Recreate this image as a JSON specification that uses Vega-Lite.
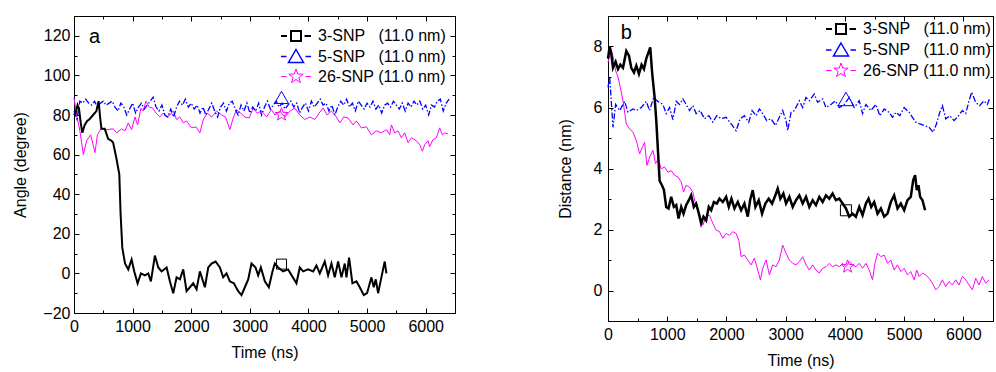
{
"$schema": "https://vega.github.io/schema/vega-lite/v6.json",
"padding": {"left": 12, "top": 7, "right": 1, "bottom": 0},
"spacing": 100,
"config": {
  "font": "Liberation Sans",
  "view": {"stroke": "black", "strokeWidth": 1},
  "axis": {"labelFont": "Liberation Sans", "titleFont": "Liberation Sans", "labelFontSize": 16, "titleFontSize": 16, "titleFontWeight": "normal", "labelColor": "black", "titleColor": "black", "tickColor": "black", "domainColor": "black", "grid": false, "labelFlush": false, "labelOverlap": false, "format": "d"},
  "legend": {"labelFont": "Liberation Sans", "labelFontSize": 16, "labelColor": "black", "labelLimit": 0}
},
"resolve": {"scale": {"color": "independent", "shape": "independent", "strokeWidth": "independent"}},
"hconcat": [
{
  "width": 381, "height": 297,
  "resolve": {"axis": {"x": "independent", "y": "independent"}},
  "layer": [
    {"data": {"name": "a26"}, "mark": {"type": "line", "color": "#FF00FF", "strokeWidth": 1},
     "encoding": {
       "x": {"field": "t", "type": "quantitative", "scale": {"domain": [0, 6500], "nice": false},
             "axis": {"orient": "bottom", "values": [0,500,1000,1500,2000,2500,3000,3500,4000,4500,5000,5500,6000,6500], "labelExpr": "datum.value % 1000 === 0 ? datum.label : ''", "tickSize": {"condition": {"test": "datum.value % 1000 === 0", "value": -5}, "value": -3}, "labelPadding": 10, "title": "Time (ns)", "titlePadding": 8}},
       "y": {"field": "v", "type": "quantitative", "scale": {"domain": [-20, 130], "nice": false},
             "axis": {"orient": "left", "values": [-20,-10,0,10,20,30,40,50,60,70,80,90,100,110,120,130], "labelExpr": "datum.value % 20 === 0 ? datum.label : ''", "tickSize": {"condition": {"test": "datum.value % 20 === 0", "value": -5}, "value": -3}, "labelPadding": 9, "title": "Angle (degree)", "titlePadding": 14}}
     }},
    {"data": {"name": "a5"}, "mark": {"type": "line", "color": "#0000FF", "strokeWidth": 1.3, "strokeDash": [6, 2, 1.5, 2]},
     "encoding": {
       "x": {"field": "t", "type": "quantitative", "scale": {"domain": [0, 6500], "nice": false}, "axis": null},
       "y": {"field": "v", "type": "quantitative", "scale": {"domain": [-20, 130], "nice": false}, "axis": null}
     }},
    {"data": {"name": "a3"}, "mark": {"type": "line", "color": "black", "strokeWidth": 2},
     "encoding": {
       "x": {"field": "t", "type": "quantitative", "scale": {"domain": [0, 6500], "nice": false}, "axis": null},
       "y": {"field": "v", "type": "quantitative", "scale": {"domain": [-20, 130], "nice": false}, "axis": null}
     }},
    {"data": {"values": [{"t": 3540, "v": 4.7}]}, "mark": {"type": "point", "shape": "square", "size": 100, "color": "black", "strokeWidth": 1, "filled": false, "opacity": 1},
     "encoding": {
       "x": {"field": "t", "type": "quantitative", "scale": {"domain": [0, 6500], "nice": false},
             "axis": {"orient": "top", "values": [0,500,1000,1500,2000,2500,3000,3500,4000,4500,5000,5500,6000,6500], "labels": false, "title": null, "domain": false, "tickSize": {"condition": {"test": "datum.value % 1000 === 0", "value": -5}, "value": -3}}},
       "y": {"field": "v", "type": "quantitative", "scale": {"domain": [-20, 130], "nice": false},
             "axis": {"orient": "right", "values": [-20,-10,0,10,20,30,40,50,60,70,80,90,100,110,120,130], "labels": false, "title": null, "domain": false, "tickSize": {"condition": {"test": "datum.value % 20 === 0", "value": -5}, "value": -3}}}
     }},
    {"data": {"values": [{"t": 3540, "v": 88.9}]}, "mark": {"type": "point", "shape": "triangle-up", "size": 196, "color": "#0000FF", "strokeWidth": 1, "filled": false, "opacity": 1},
     "encoding": {
       "x": {"field": "t", "type": "quantitative", "scale": {"domain": [0, 6500], "nice": false}, "axis": null},
       "y": {"field": "v", "type": "quantitative", "scale": {"domain": [-20, 130], "nice": false}, "axis": null}
     }},
    {"data": {"values": [{"t": 3540, "v": 80.2}]}, "mark": {"type": "point", "shape": "M0,-0.75L0.176,-0.243L0.713,-0.232L0.285,0.093L0.441,0.607L0,0.3L-0.441,0.607L-0.285,0.093L-0.713,-0.232L-0.176,-0.243Z", "size": 330, "color": "#FF00FF", "strokeWidth": 1, "filled": false, "opacity": 1},
     "encoding": {
       "x": {"field": "t", "type": "quantitative", "scale": {"domain": [0, 6500], "nice": false}, "axis": null},
       "y": {"field": "v", "type": "quantitative", "scale": {"domain": [-20, 130], "nice": false}, "axis": null}
     }},
    {"data": {"values": [{"s": "3-SNP\u00a0\u00a0\u00a0(11.0 nm)"}, {"s": "5-SNP\u00a0\u00a0\u00a0(11.0 nm)"}, {"s": "26-SNP (11.0 nm)"}]},
     "transform": [{"filter": "false"}],
     "mark": {"type": "point", "filled": false, "opacity": 1},
     "encoding": {
       "color": {"field": "s", "type": "nominal", "scale": {"domain": ["3-SNP\u00a0\u00a0\u00a0(11.0 nm)", "5-SNP\u00a0\u00a0\u00a0(11.0 nm)", "26-SNP (11.0 nm)"], "range": ["black", "#0000FF", "#FF00FF"]},
                 "legend": {"orient": "top-right", "offset": 9, "title": null, "symbolSize": 400, "labelOffset": 11, "rowPadding": 0.5, "padding": 0, "symbolFillColor": "transparent"}},
       "shape": {"field": "s", "type": "nominal", "scale": {"domain": ["3-SNP\u00a0\u00a0\u00a0(11.0 nm)", "5-SNP\u00a0\u00a0\u00a0(11.0 nm)", "26-SNP (11.0 nm)"], "range": ["M-1.5,0H-0.9M-0.5,-0.5H0.5V0.5H-0.5ZM0.85,0H1.5", "M-1.5,0H-0.95M0,-0.7L0.75,0.6H-0.75ZM0.95,0H1.5", "M-1.5,0H-0.95M0,-0.75L0.176,-0.243L0.713,-0.232L0.285,0.093L0.441,0.607L0,0.3L-0.441,0.607L-0.285,0.093L-0.713,-0.232L-0.176,-0.243ZM0.95,0H1.5"]}},
       "strokeWidth": {"field": "s", "type": "nominal", "scale": {"domain": ["3-SNP\u00a0\u00a0\u00a0(11.0 nm)", "5-SNP\u00a0\u00a0\u00a0(11.0 nm)", "26-SNP (11.0 nm)"], "range": [2, 1, 1]}}
     }},
    {"data": {"values": [{}]}, "mark": {"type": "text", "text": "a", "fontSize": 20, "font": "Liberation Sans", "baseline": "middle", "align": "center", "color": "black"},
     "encoding": {
       "x": {"datum": 350, "type": "quantitative", "scale": {"domain": [0, 6500], "nice": false}, "axis": null},
       "y": {"datum": 119.6, "type": "quantitative", "scale": {"domain": [-20, 130], "nice": false}, "axis": null}
     }}
  ]
},
{
  "width": 385, "height": 305,
  "resolve": {"axis": {"x": "independent", "y": "independent"}},
  "layer": [
    {"data": {"name": "b26"}, "mark": {"type": "line", "color": "#FF00FF", "strokeWidth": 1},
     "encoding": {
       "x": {"field": "t", "type": "quantitative", "scale": {"domain": [0, 6500], "nice": false},
             "axis": {"orient": "bottom", "values": [0,500,1000,1500,2000,2500,3000,3500,4000,4500,5000,5500,6000,6500], "labelExpr": "datum.value % 1000 === 0 ? datum.label : ''", "tickSize": {"condition": {"test": "datum.value % 1000 === 0", "value": -5}, "value": -3}, "labelPadding": 10, "title": "Time (ns)", "titlePadding": 8}},
       "y": {"field": "v", "type": "quantitative", "scale": {"domain": [-1, 9], "nice": false},
             "axis": {"orient": "left", "values": [-1,0,1,2,3,4,5,6,7,8,9], "labelExpr": "datum.value % 2 === 0 ? datum.label : ''", "tickSize": {"condition": {"test": "datum.value % 2 === 0", "value": -5}, "value": -3}, "labelPadding": 11, "title": "Distance (nm)", "titlePadding": 20}}
     }},
    {"data": {"name": "b5"}, "mark": {"type": "line", "color": "#0000FF", "strokeWidth": 1.3, "strokeDash": [6, 2, 1.5, 2]},
     "encoding": {
       "x": {"field": "t", "type": "quantitative", "scale": {"domain": [0, 6500], "nice": false}, "axis": null},
       "y": {"field": "v", "type": "quantitative", "scale": {"domain": [-1, 9], "nice": false}, "axis": null}
     }},
    {"data": {"name": "b3"}, "mark": {"type": "line", "color": "black", "strokeWidth": 2.5},
     "encoding": {
       "x": {"field": "t", "type": "quantitative", "scale": {"domain": [0, 6500], "nice": false}, "axis": null},
       "y": {"field": "v", "type": "quantitative", "scale": {"domain": [-1, 9], "nice": false}, "axis": null}
     }},
    {"data": {"values": [{"t": 4017, "v": 2.63}]}, "mark": {"type": "point", "shape": "square", "size": 121, "color": "black", "strokeWidth": 1, "filled": false, "opacity": 1},
     "encoding": {
       "x": {"field": "t", "type": "quantitative", "scale": {"domain": [0, 6500], "nice": false},
             "axis": {"orient": "top", "values": [0,500,1000,1500,2000,2500,3000,3500,4000,4500,5000,5500,6000,6500], "labels": false, "title": null, "domain": false, "tickSize": {"condition": {"test": "datum.value % 1000 === 0", "value": -5}, "value": -3}}},
       "y": {"field": "v", "type": "quantitative", "scale": {"domain": [-1, 9], "nice": false},
             "axis": {"orient": "right", "values": [-1,0,1,2,3,4,5,6,7,8,9], "labels": false, "title": null, "domain": false, "tickSize": {"condition": {"test": "datum.value % 2 === 0", "value": -5}, "value": -3}}}
     }},
    {"data": {"values": [{"t": 4017, "v": 6.28}]}, "mark": {"type": "point", "shape": "triangle-up", "size": 240, "color": "#0000FF", "strokeWidth": 1, "filled": false, "opacity": 1},
     "encoding": {
       "x": {"field": "t", "type": "quantitative", "scale": {"domain": [0, 6500], "nice": false}, "axis": null},
       "y": {"field": "v", "type": "quantitative", "scale": {"domain": [-1, 9], "nice": false}, "axis": null}
     }},
    {"data": {"values": [{"t": 4045, "v": 0.78}]}, "mark": {"type": "point", "shape": "M0,-0.75L0.176,-0.243L0.713,-0.232L0.285,0.093L0.441,0.607L0,0.3L-0.441,0.607L-0.285,0.093L-0.713,-0.232L-0.176,-0.243Z", "size": 330, "color": "#FF00FF", "strokeWidth": 1, "filled": false, "opacity": 1},
     "encoding": {
       "x": {"field": "t", "type": "quantitative", "scale": {"domain": [0, 6500], "nice": false}, "axis": null},
       "y": {"field": "v", "type": "quantitative", "scale": {"domain": [-1, 9], "nice": false}, "axis": null}
     }},
    {"data": {"values": [{"s": "3-SNP\u00a0\u00a0\u00a0(11.0 nm)"}, {"s": "5-SNP\u00a0\u00a0\u00a0(11.0 nm)"}, {"s": "26-SNP (11.0 nm)"}]},
     "transform": [{"filter": "false"}],
     "mark": {"type": "point", "filled": false, "opacity": 1},
     "encoding": {
       "color": {"field": "s", "type": "nominal", "scale": {"domain": ["3-SNP\u00a0\u00a0\u00a0(11.0 nm)", "5-SNP\u00a0\u00a0\u00a0(11.0 nm)", "26-SNP (11.0 nm)"], "range": ["black", "#0000FF", "#FF00FF"]},
                 "legend": {"orient": "top-right", "offset": 2, "title": null, "symbolSize": 400, "labelOffset": 11, "rowPadding": 1, "padding": 0, "symbolFillColor": "transparent"}},
       "shape": {"field": "s", "type": "nominal", "scale": {"domain": ["3-SNP\u00a0\u00a0\u00a0(11.0 nm)", "5-SNP\u00a0\u00a0\u00a0(11.0 nm)", "26-SNP (11.0 nm)"], "range": ["M-1.5,0H-0.9M-0.5,-0.5H0.5V0.5H-0.5ZM0.85,0H1.5", "M-1.5,0H-0.95M0,-0.7L0.75,0.6H-0.75ZM0.95,0H1.5", "M-1.5,0H-0.95M0,-0.75L0.176,-0.243L0.713,-0.232L0.285,0.093L0.441,0.607L0,0.3L-0.441,0.607L-0.285,0.093L-0.713,-0.232L-0.176,-0.243ZM0.95,0H1.5"]}},
       "strokeWidth": {"field": "s", "type": "nominal", "scale": {"domain": ["3-SNP\u00a0\u00a0\u00a0(11.0 nm)", "5-SNP\u00a0\u00a0\u00a0(11.0 nm)", "26-SNP (11.0 nm)"], "range": [2, 1, 1]}}
     }},
    {"data": {"values": [{}]}, "mark": {"type": "text", "text": "b", "fontSize": 20, "font": "Liberation Sans", "baseline": "middle", "align": "center", "color": "black"},
     "encoding": {
       "x": {"datum": 310, "type": "quantitative", "scale": {"domain": [0, 6500], "nice": false}, "axis": null},
       "y": {"datum": 8.45, "type": "quantitative", "scale": {"domain": [-1, 9], "nice": false}, "axis": null}
     }}
  ]
}
],
"datasets": {
"a3": [{"t":0,"v":80},{"t":29,"v":81},{"t":60,"v":85},{"t":86,"v":83},{"t":115,"v":76},{"t":142,"v":71},{"t":183,"v":75},{"t":225,"v":77},{"t":268,"v":78},{"t":325,"v":80},{"t":382,"v":82},{"t":420,"v":87},{"t":445,"v":79},{"t":468,"v":73},{"t":525,"v":73},{"t":582,"v":68},{"t":640,"v":67},{"t":668,"v":66},{"t":724,"v":58},{"t":773,"v":50},{"t":795,"v":30},{"t":824,"v":13},{"t":870,"v":5},{"t":926,"v":2},{"t":983,"v":7},{"t":1028,"v":1},{"t":1085,"v":-5},{"t":1142,"v":0},{"t":1210,"v":-1},{"t":1267,"v":0},{"t":1312,"v":-4},{"t":1380,"v":9},{"t":1438,"v":3},{"t":1494,"v":1},{"t":1580,"v":3},{"t":1636,"v":-4},{"t":1693,"v":-10},{"t":1750,"v":-2},{"t":1807,"v":-3},{"t":1864,"v":2},{"t":1920,"v":-9},{"t":1977,"v":-7},{"t":2034,"v":-5},{"t":2091,"v":-8},{"t":2148,"v":1},{"t":2233,"v":-7},{"t":2290,"v":3},{"t":2347,"v":5},{"t":2415,"v":6},{"t":2489,"v":3},{"t":2545,"v":-2},{"t":2602,"v":0},{"t":2659,"v":-4},{"t":2727,"v":-5},{"t":2801,"v":-9},{"t":2858,"v":-11},{"t":2915,"v":-7},{"t":2972,"v":-3},{"t":3028,"v":5},{"t":3097,"v":3},{"t":3142,"v":-1},{"t":3188,"v":3},{"t":3256,"v":-4},{"t":3324,"v":-7},{"t":3386,"v":1},{"t":3426,"v":5},{"t":3483,"v":3},{"t":3568,"v":1},{"t":3653,"v":2},{"t":3795,"v":-5},{"t":3852,"v":3},{"t":3909,"v":1},{"t":3994,"v":2},{"t":4080,"v":1},{"t":4136,"v":4},{"t":4193,"v":0},{"t":4278,"v":6},{"t":4335,"v":-1},{"t":4392,"v":5},{"t":4449,"v":-2},{"t":4506,"v":6},{"t":4563,"v":-2},{"t":4619,"v":5},{"t":4648,"v":-2},{"t":4693,"v":8},{"t":4750,"v":-5},{"t":4818,"v":-4},{"t":4875,"v":-7},{"t":4943,"v":-11},{"t":5000,"v":-10},{"t":5074,"v":-2},{"t":5114,"v":-7},{"t":5148,"v":-3},{"t":5188,"v":-10},{"t":5244,"v":-2},{"t":5301,"v":6},{"t":5330,"v":0}],
"a5": [{"t":0,"v":82},{"t":50,"v":78},{"t":100,"v":87},{"t":150,"v":86},{"t":200,"v":88},{"t":250,"v":86},{"t":300,"v":85},{"t":350,"v":87},{"t":400,"v":84},{"t":450,"v":86},{"t":500,"v":87},{"t":550,"v":85},{"t":600,"v":86},{"t":650,"v":87},{"t":700,"v":84},{"t":750,"v":82},{"t":800,"v":86},{"t":850,"v":84},{"t":900,"v":80},{"t":950,"v":83},{"t":1000,"v":86},{"t":1050,"v":81},{"t":1100,"v":84},{"t":1150,"v":86},{"t":1200,"v":83},{"t":1250,"v":85},{"t":1300,"v":87},{"t":1350,"v":89},{"t":1400,"v":84},{"t":1450,"v":82},{"t":1500,"v":85},{"t":1550,"v":80},{"t":1600,"v":79},{"t":1650,"v":83},{"t":1700,"v":79},{"t":1750,"v":84},{"t":1800,"v":87},{"t":1850,"v":85},{"t":1900,"v":88},{"t":1950,"v":84},{"t":2000,"v":86},{"t":2050,"v":83},{"t":2100,"v":85},{"t":2150,"v":81},{"t":2200,"v":84},{"t":2250,"v":80},{"t":2300,"v":83},{"t":2350,"v":86},{"t":2400,"v":82},{"t":2450,"v":79},{"t":2500,"v":84},{"t":2550,"v":86},{"t":2600,"v":82},{"t":2650,"v":86},{"t":2700,"v":87},{"t":2750,"v":83},{"t":2800,"v":80},{"t":2850,"v":85},{"t":2900,"v":82},{"t":2950,"v":86},{"t":3000,"v":81},{"t":3050,"v":84},{"t":3100,"v":82},{"t":3150,"v":86},{"t":3200,"v":80},{"t":3250,"v":84},{"t":3300,"v":87},{"t":3350,"v":83},{"t":3400,"v":85},{"t":3450,"v":87},{"t":3500,"v":84},{"t":3550,"v":86},{"t":3600,"v":83},{"t":3650,"v":85},{"t":3700,"v":87},{"t":3750,"v":84},{"t":3800,"v":86},{"t":3850,"v":81},{"t":3900,"v":84},{"t":3950,"v":86},{"t":4000,"v":82},{"t":4050,"v":87},{"t":4100,"v":84},{"t":4150,"v":86},{"t":4200,"v":88},{"t":4250,"v":85},{"t":4300,"v":86},{"t":4350,"v":82},{"t":4400,"v":85},{"t":4450,"v":80},{"t":4500,"v":84},{"t":4550,"v":87},{"t":4600,"v":85},{"t":4650,"v":88},{"t":4700,"v":84},{"t":4750,"v":86},{"t":4800,"v":82},{"t":4850,"v":87},{"t":4900,"v":85},{"t":4950,"v":83},{"t":5000,"v":86},{"t":5050,"v":84},{"t":5100,"v":87},{"t":5150,"v":83},{"t":5200,"v":85},{"t":5250,"v":81},{"t":5300,"v":85},{"t":5350,"v":86},{"t":5400,"v":84},{"t":5450,"v":87},{"t":5500,"v":85},{"t":5550,"v":83},{"t":5600,"v":86},{"t":5650,"v":82},{"t":5700,"v":86},{"t":5750,"v":84},{"t":5800,"v":87},{"t":5850,"v":85},{"t":5900,"v":87},{"t":5950,"v":83},{"t":6000,"v":85},{"t":6050,"v":80},{"t":6100,"v":85},{"t":6150,"v":84},{"t":6200,"v":87},{"t":6250,"v":88},{"t":6300,"v":82},{"t":6350,"v":86},{"t":6400,"v":88}],
"a26": [{"t":0,"v":88.6},{"t":45,"v":80},{"t":100,"v":72},{"t":160,"v":60},{"t":216,"v":67},{"t":284,"v":70},{"t":358,"v":61},{"t":400,"v":70},{"t":460,"v":73},{"t":557,"v":72.6},{"t":670,"v":73},{"t":727,"v":71},{"t":812,"v":73},{"t":870,"v":72},{"t":926,"v":76},{"t":983,"v":72.6},{"t":1040,"v":79},{"t":1085,"v":75},{"t":1142,"v":83.5},{"t":1182,"v":82},{"t":1227,"v":87},{"t":1284,"v":84},{"t":1341,"v":83.5},{"t":1398,"v":81},{"t":1466,"v":79},{"t":1523,"v":81},{"t":1580,"v":79},{"t":1636,"v":80},{"t":1693,"v":82},{"t":1750,"v":77.7},{"t":1807,"v":79},{"t":1864,"v":76},{"t":1920,"v":77},{"t":2006,"v":73.5},{"t":2080,"v":74},{"t":2148,"v":71},{"t":2205,"v":77.7},{"t":2273,"v":81},{"t":2347,"v":79},{"t":2432,"v":82},{"t":2517,"v":80},{"t":2585,"v":79},{"t":2659,"v":72.6},{"t":2716,"v":78.5},{"t":2773,"v":82.7},{"t":2841,"v":81},{"t":2915,"v":79},{"t":2989,"v":78.5},{"t":3057,"v":83.5},{"t":3125,"v":81},{"t":3199,"v":82},{"t":3284,"v":79},{"t":3369,"v":82.7},{"t":3426,"v":80},{"t":3511,"v":82},{"t":3597,"v":79},{"t":3682,"v":82},{"t":3767,"v":83.5},{"t":3852,"v":80},{"t":3937,"v":77.7},{"t":4023,"v":79},{"t":4108,"v":77.7},{"t":4182,"v":81},{"t":4250,"v":83.5},{"t":4318,"v":80},{"t":4392,"v":82},{"t":4477,"v":79},{"t":4534,"v":76},{"t":4602,"v":79},{"t":4676,"v":78.5},{"t":4761,"v":75},{"t":4818,"v":77},{"t":4903,"v":73.5},{"t":4989,"v":74},{"t":5074,"v":70},{"t":5159,"v":72},{"t":5244,"v":71},{"t":5330,"v":72.6},{"t":5386,"v":70},{"t":5415,"v":75},{"t":5472,"v":71},{"t":5528,"v":72},{"t":5585,"v":68.5},{"t":5642,"v":71},{"t":5699,"v":66},{"t":5756,"v":68.5},{"t":5841,"v":67},{"t":5898,"v":65},{"t":5943,"v":61.7},{"t":5983,"v":65},{"t":6040,"v":67},{"t":6068,"v":64},{"t":6125,"v":67.6},{"t":6182,"v":68.5},{"t":6239,"v":73.5},{"t":6284,"v":70},{"t":6324,"v":71},{"t":6380,"v":70.5}],
"b3": [{"t":0,"v":7.6},{"t":28,"v":8.0},{"t":56,"v":7.75},{"t":84,"v":7.3},{"t":129,"v":7.5},{"t":169,"v":7.26},{"t":208,"v":7.4},{"t":253,"v":7.3},{"t":309,"v":7.85},{"t":354,"v":7.7},{"t":393,"v":7.3},{"t":438,"v":7.15},{"t":478,"v":7.37},{"t":522,"v":7.1},{"t":567,"v":7.4},{"t":607,"v":7.26},{"t":646,"v":7.6},{"t":691,"v":7.85},{"t":713,"v":7.97},{"t":747,"v":7.1},{"t":787,"v":6.33},{"t":815,"v":5.57},{"t":843,"v":4.6},{"t":871,"v":3.6},{"t":910,"v":3.45},{"t":944,"v":3.3},{"t":983,"v":2.74},{"t":1022,"v":2.69},{"t":1067,"v":3.07},{"t":1112,"v":2.74},{"t":1152,"v":2.8},{"t":1191,"v":2.36},{"t":1236,"v":2.74},{"t":1275,"v":2.52},{"t":1320,"v":2.8},{"t":1365,"v":2.96},{"t":1404,"v":3.12},{"t":1449,"v":2.74},{"t":1489,"v":2.85},{"t":1534,"v":2.52},{"t":1573,"v":2.2},{"t":1612,"v":2.42},{"t":1657,"v":2.3},{"t":1702,"v":2.74},{"t":1742,"v":2.63},{"t":1787,"v":2.9},{"t":1837,"v":2.85},{"t":1882,"v":3.01},{"t":1938,"v":2.9},{"t":1994,"v":3.07},{"t":2039,"v":2.74},{"t":2084,"v":3.01},{"t":2135,"v":2.69},{"t":2191,"v":2.9},{"t":2247,"v":2.63},{"t":2303,"v":2.85},{"t":2360,"v":2.42},{"t":2399,"v":2.96},{"t":2444,"v":3.29},{"t":2489,"v":2.74},{"t":2545,"v":2.96},{"t":2601,"v":2.52},{"t":2657,"v":2.85},{"t":2713,"v":3.01},{"t":2770,"v":2.85},{"t":2826,"v":3.12},{"t":2865,"v":3.34},{"t":2910,"v":3.01},{"t":2961,"v":3.18},{"t":3006,"v":2.85},{"t":3062,"v":3.07},{"t":3118,"v":2.74},{"t":3174,"v":2.96},{"t":3230,"v":3.12},{"t":3287,"v":2.85},{"t":3343,"v":3.07},{"t":3399,"v":2.74},{"t":3455,"v":2.96},{"t":3511,"v":2.8},{"t":3567,"v":3.07},{"t":3624,"v":2.9},{"t":3680,"v":3.12},{"t":3736,"v":3.01},{"t":3792,"v":3.18},{"t":3848,"v":2.96},{"t":3904,"v":3.01},{"t":3961,"v":2.85},{"t":4017,"v":2.69},{"t":4073,"v":2.42},{"t":4129,"v":2.52},{"t":4185,"v":2.42},{"t":4242,"v":2.74},{"t":4298,"v":2.47},{"t":4354,"v":2.85},{"t":4399,"v":3.01},{"t":4444,"v":2.74},{"t":4494,"v":2.9},{"t":4551,"v":2.52},{"t":4607,"v":2.69},{"t":4663,"v":2.42},{"t":4719,"v":2.52},{"t":4775,"v":2.9},{"t":4831,"v":3.12},{"t":4888,"v":2.69},{"t":4944,"v":2.85},{"t":5000,"v":2.63},{"t":5056,"v":2.96},{"t":5112,"v":3.07},{"t":5152,"v":3.61},{"t":5185,"v":3.78},{"t":5213,"v":3.29},{"t":5242,"v":3.45},{"t":5270,"v":3.07},{"t":5309,"v":2.96},{"t":5354,"v":2.63}],
"b5": [{"t":0,"v":6.66},{"t":28,"v":7.0},{"t":84,"v":5.35},{"t":129,"v":6.1},{"t":197,"v":5.9},{"t":281,"v":6.2},{"t":337,"v":5.85},{"t":421,"v":5.95},{"t":478,"v":5.9},{"t":562,"v":6.0},{"t":646,"v":6.2},{"t":702,"v":5.9},{"t":770,"v":6.33},{"t":843,"v":6.2},{"t":927,"v":6.1},{"t":983,"v":5.8},{"t":1039,"v":6.0},{"t":1096,"v":5.6},{"t":1152,"v":6.2},{"t":1208,"v":6.1},{"t":1264,"v":6.28},{"t":1320,"v":6.1},{"t":1376,"v":5.9},{"t":1433,"v":6.06},{"t":1489,"v":5.8},{"t":1556,"v":5.9},{"t":1629,"v":5.63},{"t":1702,"v":5.73},{"t":1770,"v":5.52},{"t":1837,"v":5.73},{"t":1910,"v":5.63},{"t":1994,"v":5.68},{"t":2079,"v":5.46},{"t":2163,"v":5.24},{"t":2230,"v":5.63},{"t":2303,"v":5.73},{"t":2376,"v":5.52},{"t":2433,"v":5.9},{"t":2500,"v":5.73},{"t":2556,"v":5.95},{"t":2612,"v":5.8},{"t":2680,"v":5.57},{"t":2753,"v":5.63},{"t":2826,"v":5.41},{"t":2893,"v":5.68},{"t":2949,"v":5.9},{"t":3006,"v":5.57},{"t":3034,"v":5.24},{"t":3090,"v":5.84},{"t":3146,"v":5.9},{"t":3230,"v":6.22},{"t":3287,"v":6.0},{"t":3343,"v":6.33},{"t":3399,"v":6.22},{"t":3483,"v":6.44},{"t":3539,"v":6.17},{"t":3624,"v":6.28},{"t":3680,"v":6.0},{"t":3764,"v":6.1},{"t":3837,"v":6.22},{"t":3904,"v":6.0},{"t":3989,"v":6.1},{"t":4073,"v":6.33},{"t":4157,"v":6.0},{"t":4242,"v":6.22},{"t":4298,"v":5.8},{"t":4354,"v":6.1},{"t":4438,"v":5.9},{"t":4522,"v":6.1},{"t":4590,"v":5.73},{"t":4663,"v":5.95},{"t":4747,"v":5.84},{"t":4803,"v":5.68},{"t":4860,"v":5.84},{"t":4927,"v":5.73},{"t":5000,"v":6.0},{"t":5084,"v":5.84},{"t":5140,"v":5.68},{"t":5197,"v":5.52},{"t":5264,"v":5.46},{"t":5337,"v":5.41},{"t":5421,"v":5.35},{"t":5489,"v":5.19},{"t":5545,"v":5.46},{"t":5601,"v":5.84},{"t":5646,"v":6.06},{"t":5702,"v":5.63},{"t":5770,"v":5.73},{"t":5843,"v":5.57},{"t":5916,"v":5.73},{"t":5983,"v":5.9},{"t":6039,"v":5.8},{"t":6096,"v":6.22},{"t":6140,"v":6.5},{"t":6208,"v":6.17},{"t":6275,"v":6.06},{"t":6348,"v":6.22},{"t":6404,"v":6.1},{"t":6449,"v":6.33}],
"b26": [{"t":0,"v":7.48},{"t":28,"v":7.7},{"t":56,"v":7.9},{"t":84,"v":7.7},{"t":129,"v":7.2},{"t":169,"v":7.0},{"t":208,"v":6.66},{"t":253,"v":6.22},{"t":309,"v":5.46},{"t":365,"v":5.3},{"t":421,"v":5.19},{"t":478,"v":4.92},{"t":534,"v":4.48},{"t":579,"v":4.7},{"t":618,"v":4.86},{"t":657,"v":4.1},{"t":702,"v":4.37},{"t":758,"v":4.6},{"t":803,"v":4.16},{"t":848,"v":4.32},{"t":899,"v":3.99},{"t":955,"v":4.05},{"t":1011,"v":3.88},{"t":1067,"v":3.93},{"t":1124,"v":3.78},{"t":1180,"v":3.72},{"t":1236,"v":3.56},{"t":1275,"v":3.23},{"t":1320,"v":3.45},{"t":1376,"v":3.39},{"t":1433,"v":3.23},{"t":1489,"v":2.74},{"t":1534,"v":2.58},{"t":1573,"v":2.3},{"t":1601,"v":2.14},{"t":1657,"v":2.42},{"t":1713,"v":2.47},{"t":1770,"v":2.2},{"t":1826,"v":1.98},{"t":1882,"v":1.93},{"t":1938,"v":1.71},{"t":1994,"v":1.87},{"t":2051,"v":1.81},{"t":2107,"v":1.93},{"t":2163,"v":1.87},{"t":2208,"v":1.65},{"t":2247,"v":1.11},{"t":2303,"v":1.16},{"t":2360,"v":1.0},{"t":2416,"v":0.84},{"t":2472,"v":1.06},{"t":2528,"v":0.67},{"t":2573,"v":0.35},{"t":2612,"v":0.73},{"t":2669,"v":1.0},{"t":2725,"v":0.51},{"t":2781,"v":0.84},{"t":2837,"v":0.78},{"t":2893,"v":1.0},{"t":2949,"v":1.49},{"t":3006,"v":1.22},{"t":3062,"v":1.0},{"t":3118,"v":0.89},{"t":3174,"v":0.84},{"t":3230,"v":0.95},{"t":3287,"v":1.11},{"t":3343,"v":0.84},{"t":3399,"v":0.67},{"t":3455,"v":0.84},{"t":3511,"v":0.67},{"t":3567,"v":0.57},{"t":3624,"v":0.73},{"t":3680,"v":0.78},{"t":3736,"v":0.89},{"t":3792,"v":0.78},{"t":3848,"v":0.84},{"t":3904,"v":0.78},{"t":3961,"v":0.89},{"t":4017,"v":0.78},{"t":4073,"v":0.95},{"t":4129,"v":0.84},{"t":4185,"v":0.78},{"t":4242,"v":0.89},{"t":4298,"v":0.73},{"t":4354,"v":0.89},{"t":4410,"v":0.67},{"t":4466,"v":0.35},{"t":4506,"v":0.89},{"t":4551,"v":1.22},{"t":4607,"v":1.11},{"t":4663,"v":1.16},{"t":4719,"v":0.89},{"t":4775,"v":1.0},{"t":4831,"v":0.67},{"t":4888,"v":0.84},{"t":4944,"v":0.62},{"t":5000,"v":0.73},{"t":5056,"v":0.51},{"t":5112,"v":0.62},{"t":5169,"v":0.35},{"t":5213,"v":0.67},{"t":5253,"v":0.46},{"t":5309,"v":0.57},{"t":5365,"v":0.51},{"t":5421,"v":0.4},{"t":5477,"v":0.24},{"t":5534,"v":0.02},{"t":5590,"v":0.13},{"t":5646,"v":0.35},{"t":5702,"v":0.13},{"t":5758,"v":0.29},{"t":5815,"v":0.18},{"t":5871,"v":0.35},{"t":5927,"v":0.18},{"t":5983,"v":0.46},{"t":6039,"v":0.35},{"t":6096,"v":0.18},{"t":6152,"v":0.02},{"t":6208,"v":0.4},{"t":6264,"v":0.18},{"t":6320,"v":0.46},{"t":6376,"v":0.24},{"t":6433,"v":0.35}]
}
}
